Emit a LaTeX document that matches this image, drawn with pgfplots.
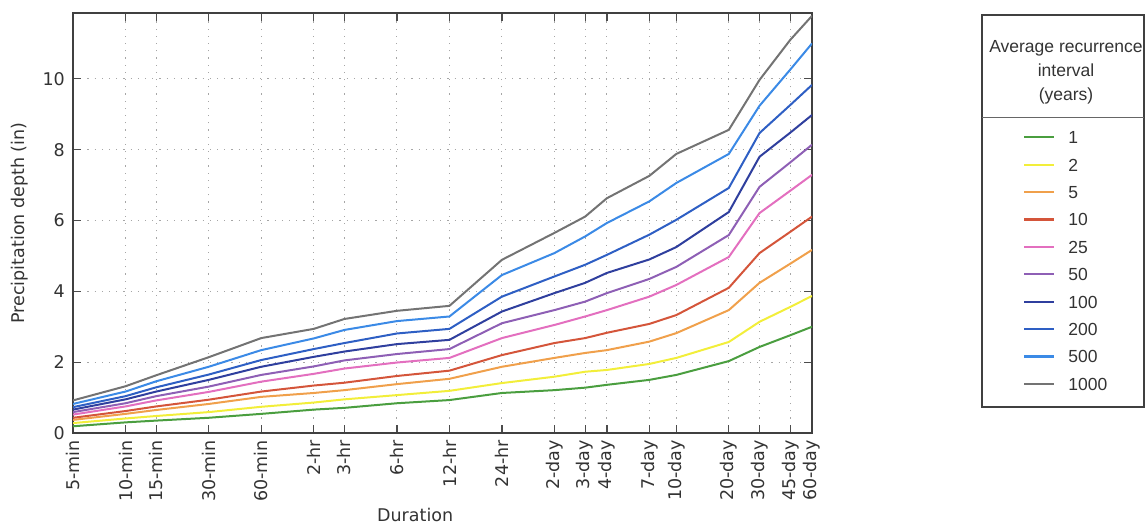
\documentclass[border=0pt]{standalone}
\usepackage{fontspec}
\setmainfont{DejaVu Sans}
\newfontfamily\legfont{Liberation Sans}
\usepackage{pgfplots}
\usepackage{pgfplotstable}
\pgfplotsset{compat=1.18}

\definecolor{c1}{HTML}{4A9E3F}
\definecolor{c2}{HTML}{F2EE3A}
\definecolor{c5}{HTML}{F0A04B}
\definecolor{c10}{HTML}{D4553A}
\definecolor{c25}{HTML}{E36FBF}
\definecolor{c50}{HTML}{8E5FB5}
\definecolor{c100}{HTML}{2F3F9E}
\definecolor{c200}{HTML}{2E5FC4}
\definecolor{c500}{HTML}{3B8AE6}
\definecolor{c1000}{HTML}{737373}

\pgfplotstableread{
dur r1 r2 r5 r10 r25 r50 r100 r200 r500 r1000
5 0.19 0.28 0.37 0.43 0.52 0.59 0.66 0.73 0.82 0.92
10 0.30 0.41 0.54 0.62 0.75 0.84 0.95 1.04 1.17 1.32
15 0.35 0.48 0.65 0.75 0.92 1.04 1.17 1.29 1.46 1.63
30 0.43 0.59 0.82 0.94 1.16 1.31 1.50 1.65 1.87 2.14
60 0.54 0.74 1.02 1.17 1.45 1.64 1.87 2.06 2.34 2.68
120 0.66 0.86 1.13 1.34 1.67 1.88 2.15 2.37 2.67 2.94
180 0.71 0.95 1.21 1.42 1.82 2.05 2.30 2.54 2.91 3.22
360 0.84 1.07 1.38 1.61 1.99 2.23 2.51 2.81 3.16 3.45
720 0.93 1.19 1.53 1.76 2.12 2.37 2.63 2.94 3.29 3.59
1440 1.13 1.41 1.87 2.20 2.68 3.10 3.43 3.85 4.46 4.89
2880 1.21 1.59 2.12 2.54 3.05 3.47 3.95 4.42 5.08 5.65
4320 1.28 1.73 2.26 2.68 3.29 3.71 4.24 4.75 5.55 6.11
5760 1.36 1.78 2.34 2.83 3.47 3.95 4.52 5.03 5.93 6.63
10080 1.50 1.95 2.58 3.08 3.85 4.35 4.90 5.60 6.54 7.26
14400 1.64 2.12 2.82 3.33 4.18 4.69 5.25 6.02 7.06 7.88
28800 2.03 2.57 3.47 4.10 4.97 5.59 6.24 6.92 7.88 8.56
43200 2.43 3.14 4.24 5.08 6.21 6.95 7.80 8.47 9.24 9.97
64800 2.76 3.56 4.78 5.68 6.84 7.64 8.48 9.26 10.26 11.10
86400 3.00 3.87 5.17 6.11 7.29 8.14 8.98 9.83 11.00 11.78
}\pfdata

\begin{document}
\begin{tikzpicture}[x=1pt,y=1pt,font=\fontsize{17.5}{21}\selectfont,every node/.style={text=black!80}]
\useasboundingbox (0,0) rectangle (1145,527);
\begin{axis}[
  at={(73pt,94pt)}, anchor=south west,
  scale only axis, width=739pt, height=420pt,
  xmode=log, xmin=5, xmax=86400, ymin=0, ymax=11.86,
  xtick={5,10,15,30,60,120,180,360,720,1440,2880,4320,5760,10080,14400,28800,43200,64800,86400},
  xticklabels={5-min,10-min,15-min,30-min,60-min,2-hr,3-hr,6-hr,12-hr,24-hr,2-day,3-day,4-day,7-day,10-day,20-day,30-day,45-day,60-day},
  ytick={0,2,4,6,8,10},
  xminorticks=false, yminorticks=false,
  /pgf/number format/assume math mode=true,
  tick pos=both, xticklabel pos=lower, yticklabel pos=left,
  tick align=inside, major tick length=8pt,
  tick style={line width=1.2pt, color=black!70},
  axis line style={line width=1.6pt, color=black!75},
  grid=major,
  major grid style={line width=0.9pt, color=black!35, dash pattern=on 1.2pt off 6pt},
  xticklabel style={rotate=90, anchor=east, inner sep=0pt, inner xsep=7pt},
  yticklabel style={anchor=east, inner sep=0pt, inner xsep=8pt},
  xlabel={Duration},
  xlabel style={at={(axis description cs:0.463,-0.195)}, anchor=center},
  ylabel={Precipitation depth (in)},
  ylabel style={at={(axis description cs:-0.0717,0.5)}, anchor=center},
  legend image code/.code={\draw[#1, line width=2.2pt] (0pt,0pt) -- (30pt,0pt);},
  legend style={at={(axis description cs:1.2855,0.7202)}, anchor=north west,
    draw=none, fill=none, inner sep=0pt, row sep=14.4pt, column sep=13pt,
    font=\legfont\fontsize{17.5}{21}\selectfont,
    nodes={inner sep=0pt, text height=13pt, text depth=0pt},
    cells={anchor=west}},
  every axis plot/.append style={line width=2pt},
]
\addplot[c1] table[x=dur,y=r1] {\pfdata}; \addlegendentry{1}
\addplot[c2] table[x=dur,y=r2] {\pfdata}; \addlegendentry{2}
\addplot[c5] table[x=dur,y=r5] {\pfdata}; \addlegendentry{5}
\addplot[c10] table[x=dur,y=r10] {\pfdata}; \addlegendentry{10}
\addplot[c25] table[x=dur,y=r25] {\pfdata}; \addlegendentry{25}
\addplot[c50] table[x=dur,y=r50] {\pfdata}; \addlegendentry{50}
\addplot[c100] table[x=dur,y=r100] {\pfdata}; \addlegendentry{100}
\addplot[c200] table[x=dur,y=r200] {\pfdata}; \addlegendentry{200}
\addplot[c500] table[x=dur,y=r500] {\pfdata}; \addlegendentry{500}
\addplot[c1000] table[x=dur,y=r1000] {\pfdata}; \addlegendentry{1000}
\end{axis}
\node[align=center, font=\legfont\fontsize{17.5}{24}\selectfont] at (1066,455) {Average recurrence\\interval\\(years)};
\draw[line width=1.6pt, black!75] (982,120) rectangle (1144,512);
\draw[line width=1pt, black!60] (982,409) -- (1144,409);
\end{tikzpicture}
\end{document}
